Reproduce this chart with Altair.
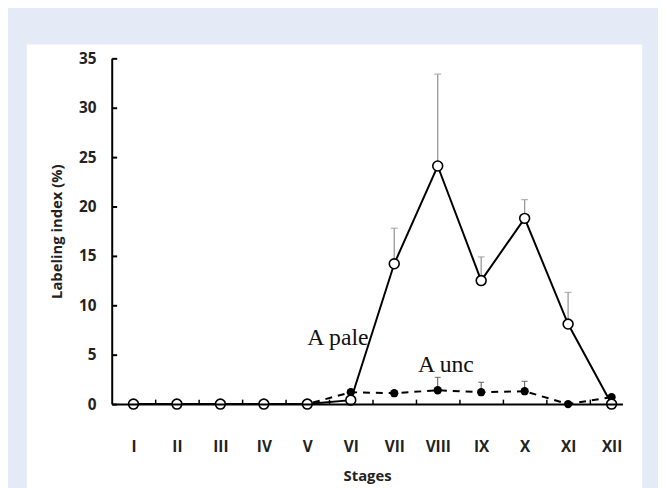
import altair as alt
import pandas as pd

stages = ["I", "II", "III", "IV", "V", "VI", "VII", "VIII", "IX", "X", "XI", "XII"]
pale_mean = [0, 0, 0, 0, 0, 0.4, 14.2, 24.1, 12.5, 18.8, 8.1, 0]
pale_err_top = [None, None, None, None, None, None, 17.8, 33.4, 14.9, 20.7, 11.3, None]
unc_mean = [0, 0, 0, 0, 0, 1.2, 1.1, 1.4, 1.2, 1.3, 0.0, 0.7]
unc_err_top = [None, None, None, None, None, None, None, 2.7, 2.2, 2.3, None, None]
y_ticks = [0, 5, 10, 15, 20, 25, 30, 35]
labels_text = ["A pale", "A unc"]
labels_x = [5.0, 7.545]
labels_y = [6.0, 3.2]

idx = list(range(1, 13))
pale = pd.DataFrame({"pos": idx, "stage": stages, "mean": pale_mean, "top": pale_err_top})
unc = pd.DataFrame({"pos": idx, "stage": stages, "mean": unc_mean, "top": unc_err_top})
pale_e = pale.dropna()
unc_e = unc.dropna()
notes = pd.DataFrame({"x": labels_x, "y": labels_y, "t": labels_text})

W, H = 517, 350
FONT = "Open Sans"
roman = "['','I','II','III','IV','V','VI','VII','VIII','IX','X','XI','XII'][datum.value]"

xs = alt.Scale(domain=[0.5, 12.25], nice=False, zero=False)
ys = alt.Scale(domain=[0, 35], nice=False)

# white panel behind the plot
panel = alt.Chart(pd.DataFrame({"a": [0]})).mark_rect(color="white", clip=False).encode(
    x=alt.value(-86), x2=alt.value(537), y=alt.value(-14), y2=alt.value(440)
)

x_main = alt.Axis(values=idx, labelExpr=roman, ticks=False, tickSize=0, grid=False, zindex=2,
                  domainColor="black", domainWidth=2, labelFont=FONT, labelFontWeight="bold",
                  labelFontSize=15.5, labelColor="#222", labelPadding=36,
                  title="Stages", titleFont=FONT, titleFontWeight="bold", titleFontSize=15,
                  titleColor="#222", titlePadding=14)
y_main = alt.Axis(values=y_ticks, ticks=False, tickSize=0, grid=False, zindex=2,
                  domainColor="black", domainWidth=2, labelFont=FONT, labelFontWeight="bold",
                  labelFontSize=15.5, labelColor="#222", labelPadding=16,
                  title="Labeling index (%)", titleFont=FONT, titleFontWeight="bold",
                  titleFontSize=15, titleColor="#222", titlePadding=14)

x_ticks_axis = alt.Axis(orient="top", offset=-H, values=[1.5, 2.5, 3.5, 4.5, 5.5, 6.5, 7.5, 8.5, 9.5, 10.5, 11.5],
                        labels=False, domain=False, grid=False, tickSize=5, tickColor="black", zindex=2,
                        tickWidth=1.5, title=None)
y_ticks_axis = alt.Axis(orient="right", offset=-W, values=y_ticks, labels=False, domain=False, zindex=2,
                        grid=False, tickSize=5, tickColor="black", tickWidth=2, title=None)

unc_line = alt.Chart(unc).mark_line(color="black", strokeWidth=2, strokeDash=[7, 6]).encode(
    x=alt.X("pos:Q", scale=xs, axis=x_main),
    y=alt.Y("mean:Q", scale=ys, axis=y_main),
)
pale_line = alt.Chart(pale).mark_line(color="black", strokeWidth=2).encode(
    x=alt.X("pos:Q", scale=xs, axis=x_ticks_axis),
    y=alt.Y("mean:Q", scale=ys, axis=y_ticks_axis),
)
pale_rule = alt.Chart(pale_e).mark_rule(color="#999999", strokeWidth=1.3).encode(
    x=alt.X("pos:Q", scale=xs, axis=None), y=alt.Y("mean:Q", scale=ys, axis=None), y2="top:Q"
)
pale_cap = alt.Chart(pale_e).mark_tick(color="#999999", orient="horizontal", size=7, thickness=1.3).encode(
    x=alt.X("pos:Q", scale=xs, axis=None), y=alt.Y("top:Q", scale=ys, axis=None)
)
unc_rule = alt.Chart(unc_e).mark_rule(color="#555555", strokeWidth=1).encode(
    x=alt.X("pos:Q", scale=xs, axis=None), y=alt.Y("mean:Q", scale=ys, axis=None), y2="top:Q"
)
unc_cap = alt.Chart(unc_e).mark_tick(color="#555555", orient="horizontal", size=6, thickness=1.3).encode(
    x=alt.X("pos:Q", scale=xs, axis=None), y=alt.Y("top:Q", scale=ys, axis=None)
)
unc_pts = alt.Chart(unc).mark_point(shape="circle", filled=True, color="black", size=70, opacity=1).encode(
    x=alt.X("pos:Q", scale=xs, axis=None), y=alt.Y("mean:Q", scale=ys, axis=None)
)
pale_pts = alt.Chart(pale).mark_point(shape="circle", filled=True, fill="white", stroke="black",
                                      strokeWidth=1.6, size=100, opacity=1).encode(
    x=alt.X("pos:Q", scale=xs, axis=None), y=alt.Y("mean:Q", scale=ys, axis=None)
)
notes_layer = alt.Chart(notes).mark_text(font="Liberation Serif", fontSize=24, align="left",
                                         baseline="alphabetic", color="#111").encode(
    x=alt.X("x:Q", scale=xs, axis=None), y=alt.Y("y:Q", scale=ys, axis=None), text="t:N"
)

chart = alt.layer(
    panel, unc_line, pale_line, pale_rule, pale_cap, unc_rule, unc_cap, unc_pts, pale_pts, notes_layer
).resolve_axis(x="independent", y="independent").properties(
    width=W, height=H,
    background="#E4EBF7",
    padding={"left": 105, "top": 48, "right": 36, "bottom": 82},
    autosize=alt.AutoSizeParams(type="none"),
).configure_view(stroke=None)

chart.save("out.html", embed_options={"renderer": "svg", "actions": False})
